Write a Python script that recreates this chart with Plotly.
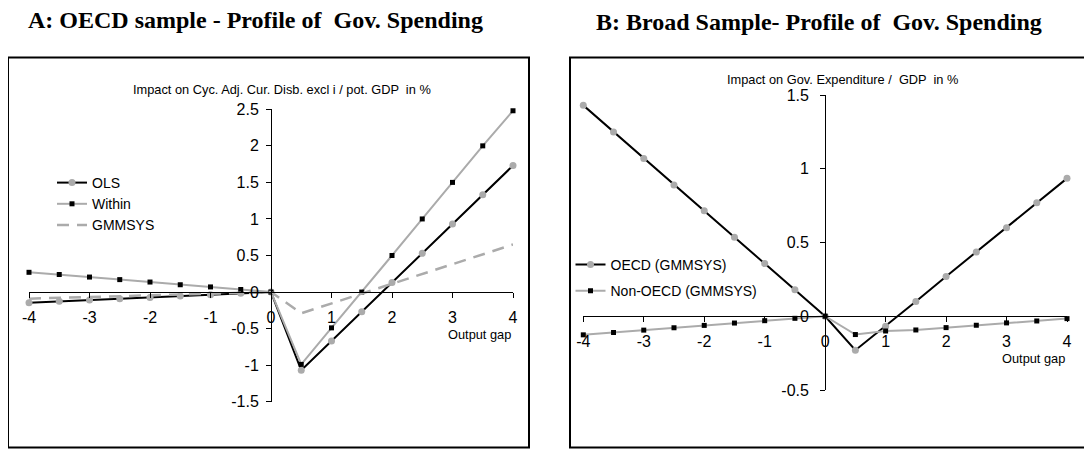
import plotly.graph_objects as go

# ---------------- data ----------------
output_gap = [-4, -3.5, -3, -2.5, -2, -1.5, -1, -0.5, 0, 0.5, 1, 1.5, 2, 2.5, 3, 3.5, 4]

# Panel A: OECD sample
ols = [-0.145, -0.127, -0.109, -0.091, -0.073, -0.055, -0.036, -0.018, 0,
       -1.07, -0.67, -0.27, 0.13, 0.53, 0.93, 1.33, 1.73]
within = [0.27, 0.24, 0.205, 0.17, 0.137, 0.10, 0.07, 0.035, 0,
          -0.99, -0.49, 0.0, 0.5, 1.0, 1.5, 2.0, 2.48]
gmmsys = [-0.09, -0.079, -0.067, -0.056, -0.045, -0.034, -0.022, -0.011, 0,
          -0.29, -0.155, -0.02, 0.115, 0.25, 0.385, 0.52, 0.65]

# Panel B: Broad sample
oecd_gmm = [1.43, 1.25, 1.07, 0.89, 0.715, 0.536, 0.357, 0.179, 0,
            -0.23, -0.067, 0.10, 0.27, 0.435, 0.60, 0.77, 0.935]
nonoecd_gmm = [-0.126, -0.11, -0.094, -0.078, -0.062, -0.046, -0.03, -0.014, 0,
               -0.124, -0.10, -0.093, -0.077, -0.061, -0.045, -0.032, -0.016]

x_ticks = [-4, -3, -2, -1, 0, 1, 2, 3, 4]
x_ticktext = ["-4", "-3", "-2", "-1", "0", "1", "2", "3", "4"]
yA_ticks = [-1.5, -1, -0.5, 0, 0.5, 1, 1.5, 2, 2.5]
yA_ticktext = ["-1.5", "-1", "-0.5", "0", "0.5", "1", "1.5", "2", "2.5"]
yB_ticks = [-0.5, 0, 0.5, 1, 1.5]
yB_ticktext = ["-0.5", "0", "0.5", "1", "1.5"]

title_A = "A: OECD sample - Profile of  Gov. Spending"
title_B = "B: Broad Sample- Profile of  Gov. Spending"
ytitle_A = "Impact on Cyc. Adj. Cur. Disb. excl i / pot. GDP  in %"
ytitle_B = "Impact on Gov. Expenditure /  GDP  in %"
xtitle = "Output gap"

# ---------------- layout helpers ----------------
W, H = 1092, 449
OFF = 8  # page body margin of the browser
def px(x):
    return (x - OFF) / W
def py(y):
    return 1 - (y - OFF) / H

BLACK = "#000000"
GREY = "#ababab"
SANS = "Arial, Liberation Sans, sans-serif"
SERIF = "Times New Roman, Liberation Serif, serif"

xA_dom = [px(29), px(513)]
yA_dom = [py(401.7), py(109.3)]
xB_dom = [px(583.3), px(1067)]
yB_dom = [py(390), py(95)]

def frac(v, lo, hi, dom):
    return dom[0] + (v - lo) / (hi - lo) * (dom[1] - dom[0])

fig = go.Figure()

# Panel A traces
fig.add_trace(go.Scatter(x=output_gap, y=ols, name="OLS", mode="lines+markers",
                         line=dict(color=BLACK, width=2),
                         marker=dict(symbol="circle", size=7, color=GREY),
                         xaxis="x", yaxis="y", legend="legend", cliponaxis=False))
fig.add_trace(go.Scatter(x=output_gap, y=within, name="Within", mode="lines+markers",
                         line=dict(color=GREY, width=2),
                         marker=dict(symbol="square", size=5, color=BLACK),
                         xaxis="x", yaxis="y", legend="legend", cliponaxis=False))
fig.add_trace(go.Scatter(x=output_gap, y=gmmsys, name="GMMSYS", mode="lines",
                         line=dict(color=GREY, width=2.5, dash="12px,8px"),
                         xaxis="x", yaxis="y", legend="legend", cliponaxis=False))

# Panel B traces
fig.add_trace(go.Scatter(x=output_gap, y=oecd_gmm, name="OECD (GMMSYS)", mode="lines+markers",
                         line=dict(color=BLACK, width=2),
                         marker=dict(symbol="circle", size=7, color=GREY),
                         xaxis="x2", yaxis="y2", legend="legend2", legendgroup="a",
                         cliponaxis=False))
fig.add_trace(go.Scatter(x=output_gap, y=nonoecd_gmm, name="Non-OECD (GMMSYS)", mode="lines+markers",
                         line=dict(color=GREY, width=2),
                         marker=dict(symbol="square", size=5, color=BLACK),
                         xaxis="x2", yaxis="y2", legend="legend2", legendgroup="b",
                         cliponaxis=False))

axis_common = dict(showline=True, linecolor=BLACK, linewidth=1, ticks="outside",
                   ticklen=5, tickcolor=BLACK, tickwidth=1, showgrid=False,
                   zeroline=False, fixedrange=True, automargin=False,
                   tickfont=dict(family=SANS, size=16, color=BLACK))

fig.update_layout(
    width=W, height=H,
    margin=dict(l=0, r=0, t=0, b=0, pad=0, autoexpand=False),
    paper_bgcolor="white", plot_bgcolor="white",
    xaxis=dict(domain=xA_dom, range=[-4, 4], tickvals=x_ticks, ticktext=x_ticktext,
               anchor="free", position=frac(0, -1.5, 2.5, yA_dom),
               ticklabelstandoff=6, **axis_common),
    yaxis=dict(domain=yA_dom, range=[-1.5, 2.5], tickvals=yA_ticks, ticktext=yA_ticktext,
               anchor="free", position=frac(0, -4, 4, xA_dom),
               ticklabelstandoff=4, **axis_common),
    xaxis2=dict(domain=xB_dom, range=[-4, 4], tickvals=x_ticks, ticktext=x_ticktext,
                anchor="free", position=frac(0, -0.5, 1.5, yB_dom),
                ticklabelstandoff=6, **axis_common),
    yaxis2=dict(domain=yB_dom, range=[-0.5, 1.5], tickvals=yB_ticks, ticktext=yB_ticktext,
                anchor="free", position=frac(0, -4, 4, xB_dom),
                ticklabelstandoff=8, **axis_common),
    legend=dict(x=px(52), y=py(167), xanchor="left", yanchor="top",
                bgcolor="rgba(0,0,0,0)", font=dict(family=SANS, size=14, color=BLACK),
                tracegroupgap=0, itemwidth=30),
    legend2=dict(x=px(570.5), y=py(249), xanchor="left", yanchor="top",
                 bgcolor="rgba(0,0,0,0)", font=dict(family=SANS, size=14, color=BLACK),
                 traceorder="grouped", tracegroupgap=5, itemwidth=30),
    showlegend=True,
)

# Frames around the panels
for x0, x1 in [(8, 529), (570, 1090)]:
    fig.add_shape(type="rect", xref="paper", yref="paper",
                  x0=px(x0), x1=px(x1), y0=py(447.5), y1=py(57.5),
                  line=dict(color=BLACK, width=2), fillcolor="rgba(0,0,0,0)", layer="below")

# Titles and axis captions
ann = [
    dict(text="<b>" + title_A + "</b>", x=px(255), y=py(20), font=dict(family=SERIF, size=24, color=BLACK)),
    dict(text="<b>" + title_B + "</b>", x=px(819), y=py(22.5), font=dict(family=SERIF, size=24, color=BLACK)),
    dict(text=ytitle_A, x=px(282), y=py(90), font=dict(family=SANS, size=12.8, color=BLACK)),
    dict(text=ytitle_B, x=px(842), y=py(79.5), font=dict(family=SANS, size=12.8, color=BLACK)),
]
for a in ann:
    fig.add_annotation(xref="paper", yref="paper", showarrow=False,
                       xanchor="center", yanchor="middle", **a)
fig.add_annotation(text=xtitle, xref="paper", yref="paper", x=px(513), y=py(334),
                   xanchor="right", yanchor="middle", showarrow=False,
                   font=dict(family=SANS, size=12.8, color=BLACK))
fig.add_annotation(text=xtitle, xref="paper", yref="paper", x=px(1067), y=py(358),
                   xanchor="right", yanchor="middle", showarrow=False,
                   font=dict(family=SANS, size=12.8, color=BLACK))

fig.write_html("out.html")
